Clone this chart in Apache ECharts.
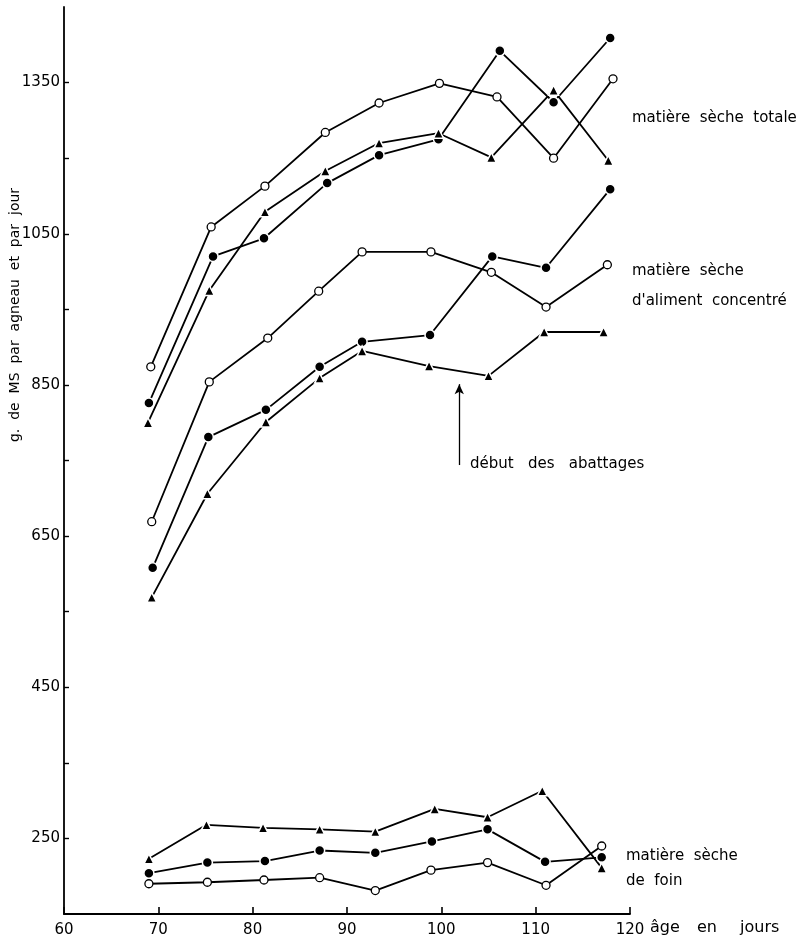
<!DOCTYPE html>
<html>
<head>
<meta charset="utf-8">
<script src="https://cdn.jsdelivr.net/npm/echarts@6/dist/echarts.min.js"></script>
<style>
html,body{margin:0;padding:0;background:#fff;}
#chart{width:809px;height:942px;}
</style>
</head>
<body>
<div id="chart"></div>
<script>
// ---- data (age in days, g DM per lamb per day) ----
var totalOpenDays   = [69.2, 75.6, 81.3, 87.7, 93.4, 99.8, 105.9, 111.9, 118.2];
var totalOpen       = [874, 1059, 1113, 1184, 1223, 1249, 1231, 1150, 1255];
var totalFilledDays = [69.0, 75.8, 81.2, 87.9, 93.4, 99.7, 106.2, 111.9, 117.9];
var totalFilled     = [826, 1020, 1044, 1117, 1154, 1175, 1292, 1224, 1309];
var totalTriDays    = [68.9, 75.4, 81.3, 87.7, 93.4, 99.7, 105.3, 111.9, 117.7];
var totalTri        = [800, 975, 1079, 1133, 1170, 1183, 1151, 1240, 1147];

var concOpenDays    = [69.3, 75.4, 81.6, 87.0, 91.6, 98.9, 105.3, 111.1, 117.6];
var concOpen        = [669, 854, 912, 974, 1026, 1026, 999, 953, 1009];
var concFilledDays  = [69.4, 75.3, 81.4, 87.1, 91.6, 98.8, 105.4, 111.1, 117.9];
var concFilled      = [608, 781, 817, 874, 907, 916, 1020, 1005, 1109];
var concTriDays     = [69.3, 75.2, 81.4, 87.1, 91.6, 98.7, 105.0, 110.9, 117.2];
var concTri         = [569, 706, 801, 859, 895, 875, 862, 920, 920];

var hayOpenDays     = [69.0, 75.2, 81.2, 87.1, 93.0, 98.9, 104.9, 111.1, 117.0];
var hayOpen         = [190, 192, 195, 198, 181, 208, 218, 188, 240];
var hayFilledDays   = [69.0, 75.2, 81.3, 87.1, 93.0, 99.0, 104.9, 111.0, 117.0];
var hayFilled       = [204, 218, 220, 234, 231, 246, 262, 219, 225];
var hayTriDays      = [69.0, 75.1, 81.1, 87.1, 93.0, 99.3, 104.9, 110.7, 117.0];
var hayTri          = [223, 268, 264, 262, 259, 289, 278, 313, 211];

// y-axis ticks and labels (as printed on the original figure)
var yTickValues  = [250, 350, 450, 550, 650, 750, 850, 950, 1050, 1150, 1250];
var yLabelValues = [250, 450, 650, 850, 1050, 1250];
var yLabelTexts  = ['250', '450', '650', '850', '1050', '1350'];

// arrow "début des abattages"
var arrowDay = 101.9;
var arrowFrom = 744;
var arrowTo = 851;

function zip(a, b) { return a.map(function (d, i) { return [d, b[i]]; }); }

var FONT = 'DejaVu Sans';

function mkSeries(name, days, vals, kind) {
  var s = {
    name: name,
    type: 'line',
    data: zip(days, vals),
    lineStyle: { color: '#000', width: 1.8 },
    silent: true,
    animation: false,
    z: 3
  };
  if (kind === 'open') {
    s.symbol = 'circle';
    s.symbolSize = 8;
    s.itemStyle = { color: '#fff', borderColor: '#000', borderWidth: 1.3 };
  } else if (kind === 'filled') {
    s.symbol = 'circle';
    s.symbolSize = 10;
    s.itemStyle = { color: '#000', borderColor: '#fff', borderWidth: 1.5 };
  } else {
    s.symbol = 'triangle';
    s.symbolSize = 10;
    s.itemStyle = { color: '#000', borderColor: '#fff', borderWidth: 1.5 };
  }
  return s;
}

var series = [
  mkSeries('totalOpen', totalOpenDays, totalOpen, 'open'),
  mkSeries('totalFilled', totalFilledDays, totalFilled, 'filled'),
  mkSeries('totalTri', totalTriDays, totalTri, 'tri'),
  mkSeries('concOpen', concOpenDays, concOpen, 'open'),
  mkSeries('concFilled', concFilledDays, concFilled, 'filled'),
  mkSeries('concTri', concTriDays, concTri, 'tri'),
  mkSeries('hayOpen', hayOpenDays, hayOpen, 'open'),
  mkSeries('hayFilled', hayFilledDays, hayFilled, 'filled'),
  mkSeries('hayTri', hayTriDays, hayTri, 'tri')
];

series[5].markLine = {
  silent: true,
  animation: false,
  symbol: ['none', 'arrow'],
  symbolSize: [7, 10],
  label: { show: false },
  lineStyle: { color: '#000', width: 1.3, type: 'solid' },
  data: [[{ coord: [arrowDay, arrowFrom] }, { coord: [arrowDay, arrowTo] }]]
};

function label(x, y, t, size) {
  return { type: 'text', x: x, y: y, silent: true,
    style: { text: t, fill: '#000', font: (size || 15) + 'px "' + FONT + '"', verticalAlign: 'middle', align: 'left' } };
}

var chart = echarts.init(document.getElementById('chart'), null, { renderer: 'canvas' });
chart.setOption({
  animation: false,
  backgroundColor: '#fff',
  grid: { left: 64, right: 179, top: 7, bottom: 28, containLabel: false },
  xAxis: {
    type: 'value',
    min: 60, max: 120, interval: 10,
    axisLine: { show: true, lineStyle: { color: '#000', width: 1.8 } },
    axisTick: { show: true, inside: true, length: 7, lineStyle: { color: '#000', width: 1.6 } },
    axisLabel: { color: '#000', fontFamily: FONT, fontSize: 15, margin: 9 },
    splitLine: { show: false }
  },
  yAxis: {
    type: 'value',
    min: 150, max: 1350,
    axisLine: { show: true, lineStyle: { color: '#000', width: 1.8 } },
    axisTick: { show: true, inside: true, length: 5, customValues: yTickValues, lineStyle: { color: '#000', width: 1.4 } },
    axisLabel: {
      color: '#000', fontFamily: FONT, fontSize: 15, margin: 4,
      customValues: yLabelValues,
      formatter: function (v) {
        var i = yLabelValues.indexOf(v);
        return i >= 0 ? yLabelTexts[i] : '';
      }
    },
    splitLine: { show: false }
  },
  graphic: [
    { type: 'text', x: 15, y: 315, rotation: Math.PI / 2, silent: true,
      style: { text: 'g.  de  MS  par  agneau  et  par  jour', fill: '#000', font: '14px "' + FONT + '"', align: 'center', verticalAlign: 'middle' } },
    label(632, 118, 'matière  sèche  totale'),
    label(632, 271, 'matière  sèche'),
    label(632, 301, 'd\'aliment  concentré'),
    label(470, 464, 'début   des   abattages'),
    label(626, 856, 'matière  sèche'),
    label(626, 881, 'de  foin'),
    label(650, 928, 'âge', 16),
    label(697, 928, 'en', 16),
    label(740, 928, 'jours', 16)
  ],
  series: series
});
</script>
</body>
</html>
